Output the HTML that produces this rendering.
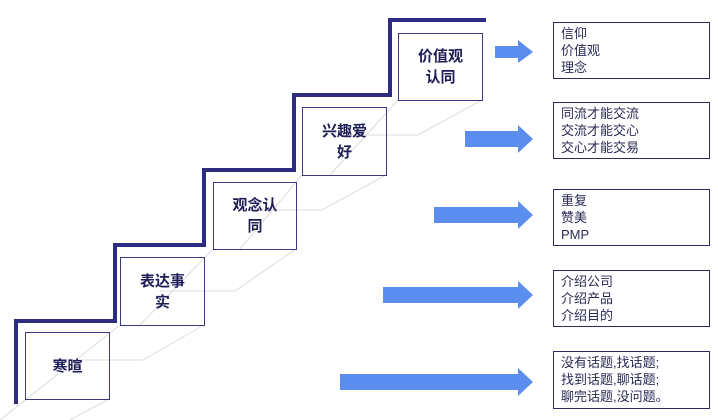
<!DOCTYPE html>
<html><head><meta charset="utf-8"><style>
body{margin:0;width:718px;height:420px;background:#fff;overflow:hidden;position:relative;font-family:"Liberation Sans","Noto Sans CJK SC",sans-serif}
.b{position:absolute;border:1.5px solid #3b3a80;box-sizing:border-box;display:flex;align-items:center;justify-content:center;text-align:center;font-weight:bold;font-size:15px;line-height:21px;color:#1e1d55}
.r{position:absolute;left:553px;width:157px;height:57px;border:1.5px solid #2d2c5e;box-sizing:border-box;font-size:13px;line-height:17px;color:#2a2a55;padding:2px 0 0 7px}
</style></head><body>
<svg width="718" height="420" style="position:absolute;left:0;top:0">
<g stroke="#dcdce0" stroke-width="1" fill="none">
<polyline points="70,360 143,360 204,325"/>
<polyline points="160,291 235,291 296,249"/>
<polyline points="250,210 322,210 386,175"/>
<polyline points="340,135 418,135 482,100"/>
<line x1="0" y1="420" x2="120" y2="325"/>
<line x1="70" y1="420" x2="109" y2="399"/>
<line x1="140" y1="325" x2="213" y2="249"/>
<line x1="240" y1="249" x2="302" y2="175"/>
<line x1="330" y1="175" x2="398" y2="100"/>
</g>
<polyline points="16,404 16,321 115,321 115,245 204,245 204,170 294,170 294,95 390,95 390,20 486,20" stroke="#2e2c82" stroke-width="4" fill="none"/>
<g fill="#5b8def">
<polygon points="495,46 518,46 518,40 533,52 518,63 518,58 495,58"/>
<polygon points="465,131 518,131 518,125 533,139 518,153 518,147 465,147"/>
<polygon points="434,207 518,207 518,201 533,215 518,229 518,223 434,223"/>
<polygon points="383,287 518,287 518,281 533,295 518,309 518,303 383,303"/>
<polygon points="340,374 518,374 518,368 533,382 518,396 518,390 340,390"/>
</g>
</svg>
<div class="b" style="left:25px;top:332px;width:85px;height:68px">寒暄</div>
<div class="b" style="left:120px;top:257px;width:85px;height:69px">表达事<br>实</div>
<div class="b" style="left:213px;top:182px;width:84px;height:68px">观念认<br>同</div>
<div class="b" style="left:302px;top:107px;width:85px;height:69px">兴趣爱<br>好</div>
<div class="b" style="left:398px;top:33px;width:85px;height:68px">价值观<br>认同</div>
<div class="r" style="top:22px">信仰<br>价值观<br>理念</div>
<div class="r" style="top:102px">同流才能交流<br>交流才能交心<br>交心才能交易</div>
<div class="r" style="top:189px">重复<br>赞美<br>PMP</div>
<div class="r" style="top:270px">介绍公司<br>介绍产品<br>介绍目的</div>
<div class="r" style="top:351px;height:58px">没有话题,找话题;<br>找到话题,聊话题;<br>聊完话题,没问题。</div>
</body></html>
